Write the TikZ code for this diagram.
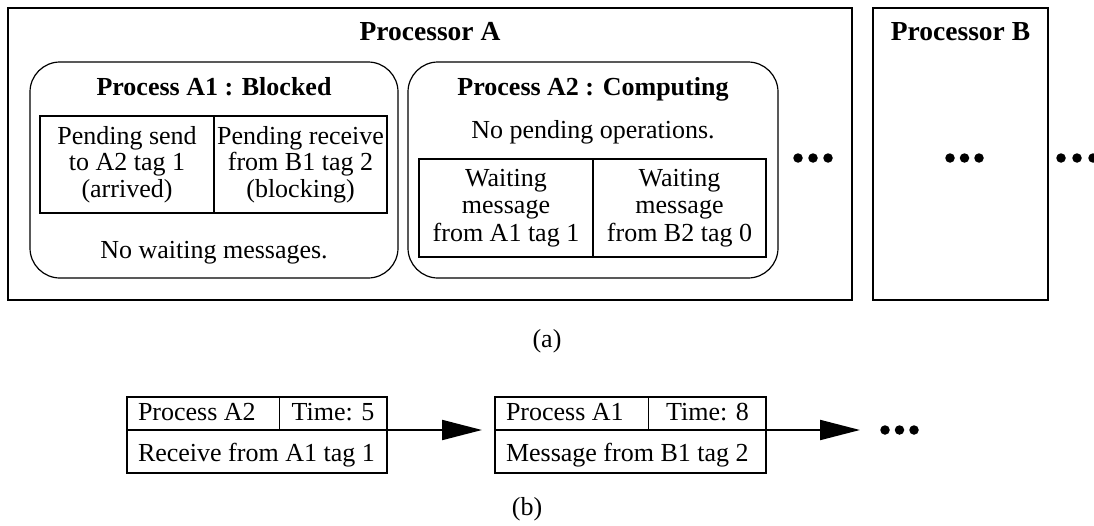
\documentclass[tikz,border=0pt]{standalone}
\usepackage{fontspec}
\setmainfont{Liberation Serif}
\usetikzlibrary{arrows.meta}
\begin{document}
\begin{tikzpicture}[x=1pt,y=-1pt,
  every node/.style={font=\fontsize{26}{26.5}\selectfont, inner sep=0pt, outer sep=0pt},
  procbox/.style={draw, line width=2.2pt},
  taskbox/.style={draw, line width=1.2pt, rounded corners=30pt},
  cell/.style={draw, line width=1.5pt, align=center},
  hd/.style={font=\fontsize{26}{26.5}\selectfont\bfseries, anchor=base},
  bighd/.style={font=\fontsize{27.5}{28}\selectfont\bfseries, anchor=base},
  txt/.style={anchor=base},
  evcell/.style={text height=18pt, text depth=5pt, minimum height=33pt},
  evrow/.style={text height=20pt, text depth=0pt, minimum height=43pt},
  flow/.style={line width=2pt, -{Triangle[length=40pt,width=20pt]}, shorten >=13pt},
  dot/.style={fill, circle, minimum size=9.5pt}
]
\useasboundingbox[fill=white] (0,0) rectangle (1094,525);

% ---------- (a) processors ----------
\node[procbox, minimum width=844pt, minimum height=292pt] (pA) at (430,154) {};
\node[bighd] (pAt) at (430,40) {Processor A};
\node[procbox, minimum width=175pt, minimum height=292pt] (pB) at (960.5,154) {};
\node[bighd] (pBt) at (960.5,40) {Processor B};

% process A1
\node[taskbox, minimum width=368pt, minimum height=216pt] (a1) at (214,170) {};
\node[hd] (a1t) at (214,95) {Process A1 : Blocked};
\node[cell, minimum width=174pt, minimum height=97pt] (a1s) at (127,164.5)
  {Pending send\\to A2 tag 1\\(arrived)};
\node[cell, minimum width=173pt, minimum height=97pt] (a1r) at (300.5,164.5)
  {Pending receive\\from B1 tag 2\\(blocking)};
\node[txt] (a1w) at (214,258) {No waiting messages.};

% process A2
\node[taskbox, minimum width=370pt, minimum height=216pt] (a2) at (593,170) {};
\node[hd] (a2t) at (593,95) {Process A2 : Computing};
\node[txt] (a2p) at (593,138) {No pending operations.};
\node[cell, minimum width=174pt, minimum height=98pt,
      font=\fontsize{26}{27.5}\selectfont] (a2m1) at (506,208)
  {Waiting\\message\\from A1 tag 1};
\node[cell, minimum width=173pt, minimum height=98pt,
      font=\fontsize{26}{27.5}\selectfont] (a2m2) at (679.5,208)
  {Waiting\\message\\from B2 tag 0};

% ellipses
\foreach \x [count=\i] in {798,813,828} \node[dot] (dA\i) at (\x,158) {};
\foreach \x [count=\i] in {950,964.5,979} \node[dot] (dB\i) at (\x,158) {};
\foreach \x [count=\i] in {1061,1077,1093} \node[dot] (dC\i) at (\x,158) {};

\node[txt] (capa) at (547,347) {(a)};

% ---------- (b) event queue ----------
% event 1
\node[evcell, inner xsep=11pt] (e1p) at (203,413.5) {\makebox[130pt][l]{Process A2}};
\node[evcell, minimum width=108pt] (e1t) at (333,413.5) {Time: 5};
\node[evrow, inner xsep=11pt] (e1m) at (257,451.5)
  {\makebox[238pt][l]{Receive from A1 tag 1}};
\draw[line width=2pt] (e1p.north west) rectangle (e1m.south east);
\draw[line width=2pt] (e1m.north west) -- (e1m.north east);
\draw[line width=1pt] (e1t.north west) -- (e1t.south west);

% event 2
\node[evcell, inner xsep=11pt] (e2p) at (571,413.5) {\makebox[130pt][l]{Process A1}};
\node[evcell, minimum width=119pt] (e2t) at (707.5,413.5) {Time: 8};
\node[evrow, inner xsep=11pt] (e2m) at (630.5,451.5)
  {\makebox[249pt][l]{Message from B1 tag 2}};
\draw[line width=2pt] (e2p.north west) rectangle (e2m.south east);
\draw[line width=2pt] (e2m.north west) -- (e2m.north east);
\draw[line width=1pt] (e2t.north west) -- (e2t.south west);

\foreach \x [count=\i] in {885,899.5,914} \node[dot] (dE\i) at (\x,430) {};
\coordinate (qend) at (873,430);

\draw[flow] (e1t.south east) -- (e2p.south west);
\draw[flow] (e2t.south east) -- (qend);

\node[txt] (capb) at (527,515) {(b)};
\end{tikzpicture}
\end{document}
